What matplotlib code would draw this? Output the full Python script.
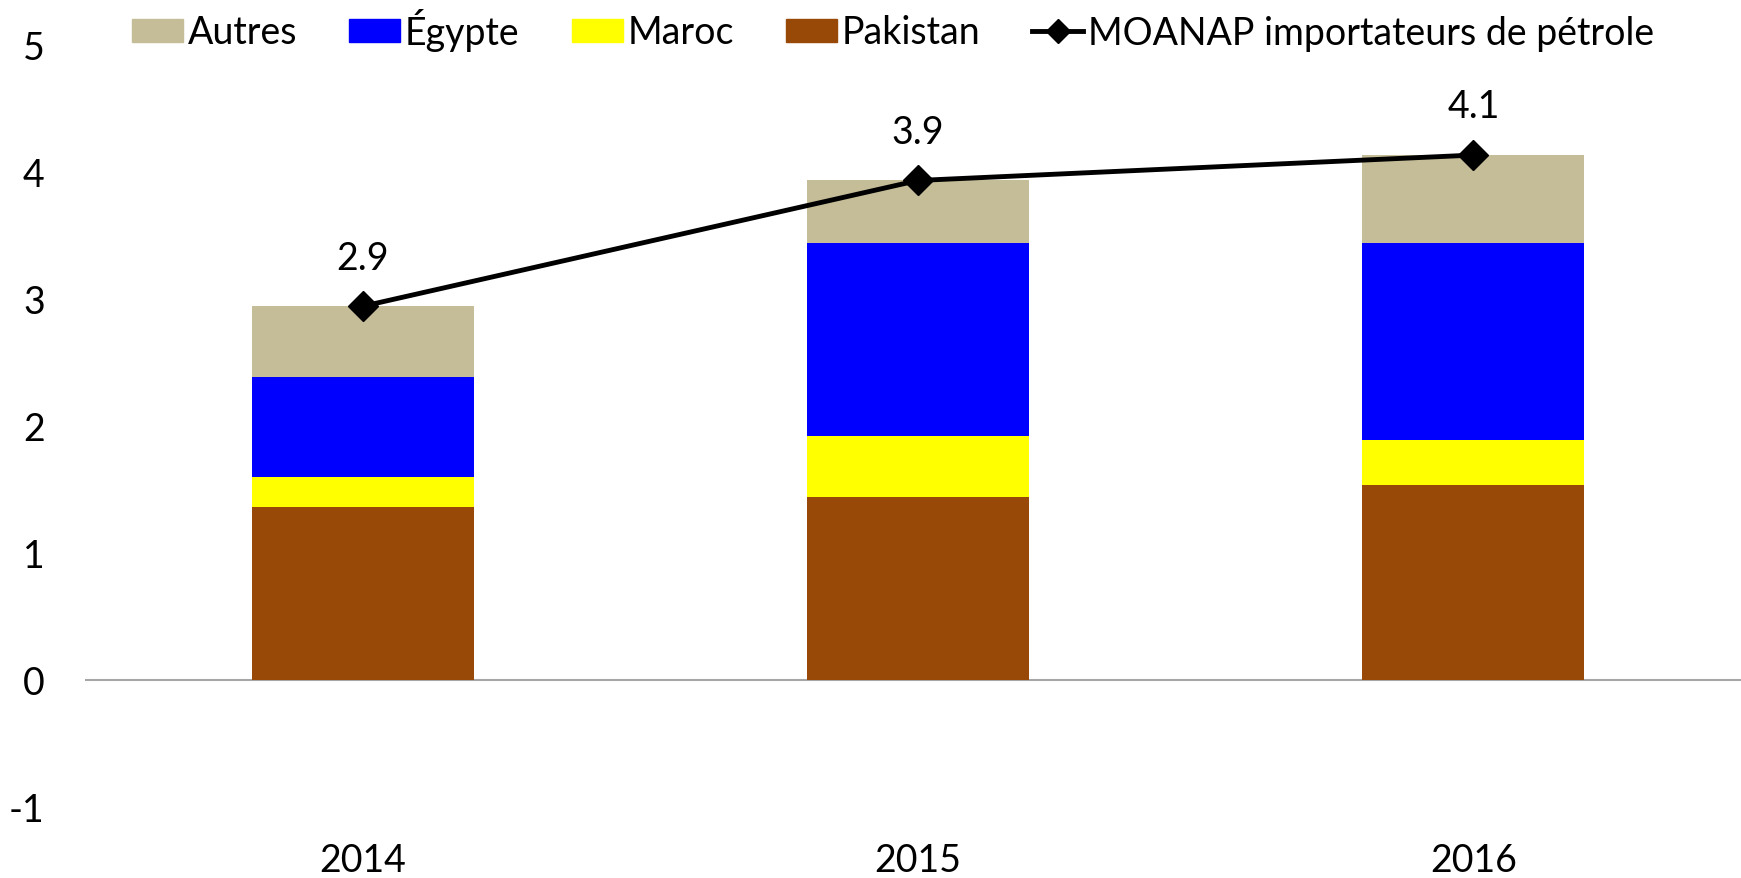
import matplotlib
matplotlib.use("Agg")
import matplotlib.pyplot as plt
import numpy as np
from matplotlib.lines import Line2D
from matplotlib.patches import Patch

plt.rcParams['font.family'] = ['Lato', 'DejaVu Sans']

years = ["2014", "2015", "2016"]
pakistan = [1.36, 1.44, 1.53]
maroc = [0.24, 0.48, 0.36]
egypte = [0.78, 1.52, 1.55]
autres = [0.56, 0.49, 0.69]
moanap = [2.94, 3.93, 4.13]
moanap_labels = ["2.9", "3.9", "4.1"]
yticks = [-1, 0, 1, 2, 3, 4, 5]

col_pak = "#984807"
col_mar = "#FFFF00"
col_egy = "#0000FF"
col_aut = "#C4BD97"

FS = 27

fig = plt.figure(figsize=(17.41, 8.79), dpi=100)
ax = fig.add_axes([85/1741, 1-808/879, (1751-85)/1741, (808-45.5)/879])

x = np.arange(len(years))
w = 0.4
b1 = np.array(pakistan)
b2 = b1 + np.array(maroc)
b3 = b2 + np.array(egypte)
ax.bar(x, pakistan, w, color=col_pak, zorder=2)
ax.bar(x, maroc, w, bottom=b1, color=col_mar, zorder=2)
ax.bar(x, egypte, w, bottom=b2, color=col_egy, zorder=2)
ax.bar(x, autres, w, bottom=b3, color=col_aut, zorder=2)
ax.plot(x, moanap, color="black", lw=3.5, marker="D", markersize=15, zorder=4)
for xi, yi, lab in zip(x, moanap, moanap_labels):
    ax.annotate(lab, (xi, yi), xytext=(0, 35), textcoords="offset points",
                ha="center", va="center", fontsize=FS)

ax.axhline(0, color="#A6A6A6", lw=1.5, zorder=1)
ax.set_xlim(-0.5, 2.5)
ax.set_ylim(-1, 5)
ax.set_yticks(yticks)
ax.set_yticklabels([str(t) for t in yticks])
ax.set_xticks(x)
ax.set_xticklabels(years)
for s in ax.spines.values():
    s.set_visible(False)
ax.tick_params(axis='y', length=0, pad=29, labelsize=FS)
ax.tick_params(axis='x', length=0, pad=25, labelsize=FS)

handles = [Patch(color=col_aut), Patch(color=col_egy), Patch(color=col_mar), Patch(color=col_pak),
           Line2D([], [], color="black", lw=3.5, marker="D", markersize=12)]
labels = ["Autres", "Égypte", "Maroc", "Pakistan", "MOANAP importateurs de pétrole"]
fig.legend(handles, labels, ncol=5, loc="center", bbox_to_anchor=(893/1741, 1-30/879),
           frameon=False, fontsize=FS, handlelength=1.36, handleheight=0.55,
           handletextpad=0.12, columnspacing=1.39, borderpad=0)

fig.savefig("out.png", dpi=100)
